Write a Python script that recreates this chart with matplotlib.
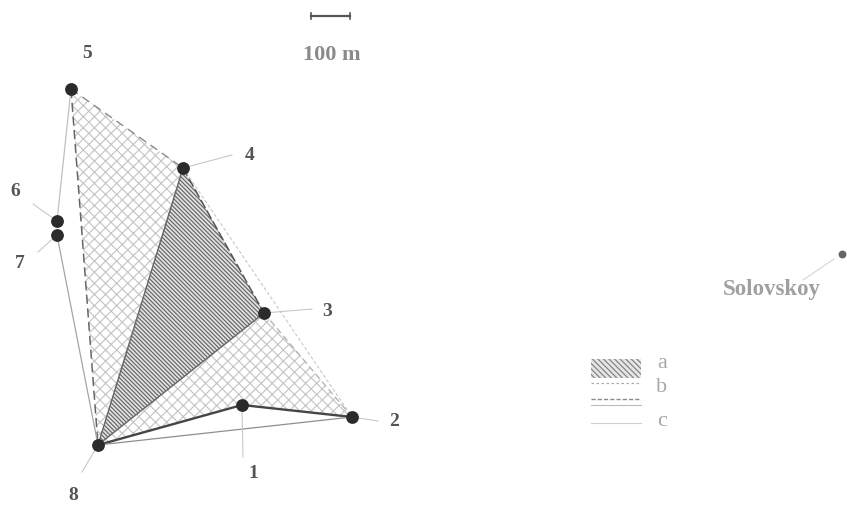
import matplotlib
matplotlib.use("Agg")
import matplotlib.pyplot as plt
from matplotlib.patches import Polygon, Rectangle

plt.rcParams['font.family'] = ['Liberation Serif', 'DejaVu Serif']
plt.rcParams['hatch.linewidth'] = 0.85

site_ids = [1, 2, 3, 4, 5, 6, 7, 8]
site_x = [242, 352, 264, 183, 71, 57, 57, 98]
site_y = [405, 417, 313, 168, 89, 221, 235, 445]
label_x = [253, 394, 327, 250, 87, 15, 20, 73]
label_y = [474, 421, 311, 155, 53, 192, 263, 495]
leader_x = [243, 378, 312, 232, 71, 33, 38, 82]
leader_y = [457, 421, 309, 155, 89, 204, 252, 472]

zone_a = [8, 4, 3]
zone_b1 = [5, 4, 8]
zone_b2 = [8, 3, 2, 1]
zone_c = [5, 6, 7, 8, 2, 3, 4]

scale_x = [311, 350]
scale_y = [16, 16]
scale_label = "100 m"
remote_x = [842]
remote_y = [254]
remote_name = "Solovskoy"
legend_names = ["a", "b", "c"]

fig = plt.figure(figsize=(8.47, 5.05), dpi=100)
ax = fig.add_axes([0, 0, 1, 1])
ax.set_xlim(0, 847)
ax.set_ylim(505, 0)
ax.axis("off")


def pts(ids):
    return [(site_x[i - 1], site_y[i - 1]) for i in ids]


for z in (zone_b1, zone_b2):
    ax.add_patch(Polygon(pts(z), closed=True, facecolor="white", edgecolor="#c6c6c6",
                         hatch="xxx", lw=0, zorder=1))
ax.add_patch(Polygon(pts(zone_a), closed=True, facecolor="#e2e2e2", edgecolor="#666666",
                     hatch="\\\\\\\\\\\\\\\\", lw=0, zorder=2))


def line(ids, color, lw, ls="-", z=3):
    xs, ys = zip(*pts(ids))
    ax.plot(xs, ys, color=color, lw=lw, ls=ls, zorder=z)


# zone b dashed boundaries
line([5, 4], "#8a8a8a", 1.0, (0, (6, 4)))
line([5, 8], "#666666", 1.1, (0, (6, 3)))
line([4, 3], "#555555", 1.1, (0, (6, 2)))
line([3, 2], "#b0b0b0", 0.9, (0, (5, 3)))
line([8, 1, 2], "#454545", 1.7, "-")
line([8, 4], "#666666", 1.0)
line([8, 3], "#666666", 1.0)
# zone c outer boundary
line([5, 6], "#c0c0c0", 0.9)
line([7, 8], "#a5a5a5", 0.9)
line([8, 2], "#8f8f8f", 0.9)
line([4, 2], "#c8c8c8", 0.8, (0, (3, 2)))

# leaders
for i in range(8):
    if site_ids[i] == 5:
        continue
    ax.plot([site_x[i], leader_x[i]], [site_y[i], leader_y[i]], color="#c8c8c8", lw=0.8, zorder=3)

ax.scatter(site_x, site_y, s=85, color="#2b2b2b", zorder=5, linewidths=0)
for i in range(8):
    ax.text(label_x[i], label_y[i], str(site_ids[i]), fontsize=14, color="#555555",
            ha="center", va="center", fontweight="bold", zorder=6)

# scale bar
ax.plot(scale_x, scale_y, color="#555555", lw=1.6, zorder=3)
for x in scale_x:
    ax.plot([x, x], [scale_y[0] - 3, scale_y[0] + 3], color="#555555", lw=1.2)
ax.text(332, 55, scale_label, fontsize=16, color="#8a8a8a", ha="center", va="center",
        fontweight="bold")

# remote site
ax.scatter(remote_x, remote_y, s=32, color="#666666", zorder=5, linewidths=0)
ax.plot([remote_x[0] - 8, 803], [remote_y[0] + 5, 280], color="#d0d0d0", lw=0.7)
ax.text(772, 289, remote_name, fontsize=16.5, color="#a0a0a0", ha="center", va="center",
        fontweight="bold")

# legend
ax.add_patch(Rectangle((591, 359), 50, 19, facecolor="#e6e6e6", edgecolor="#808080",
                       hatch="\\\\\\\\\\\\", lw=0))
ax.plot([591, 641], [383, 383], color="#a8a8a8", lw=0.9, ls=(0, (2, 2)))
ax.plot([591, 641], [399, 399], color="#8a8a8a", lw=1.0, ls=(0, (3, 1.5)))
ax.plot([591, 641], [405, 405], color="#bbbbbb", lw=0.8)
ax.plot([591, 641], [423, 423], color="#cfcfcf", lw=0.8)
for name, y in zip(legend_names, [364, 388, 421]):
    ax.text(662, y, name, fontsize=16, color="#a8a8a8", ha="center", va="center")

fig.savefig("out.png", dpi=100, facecolor="white")
